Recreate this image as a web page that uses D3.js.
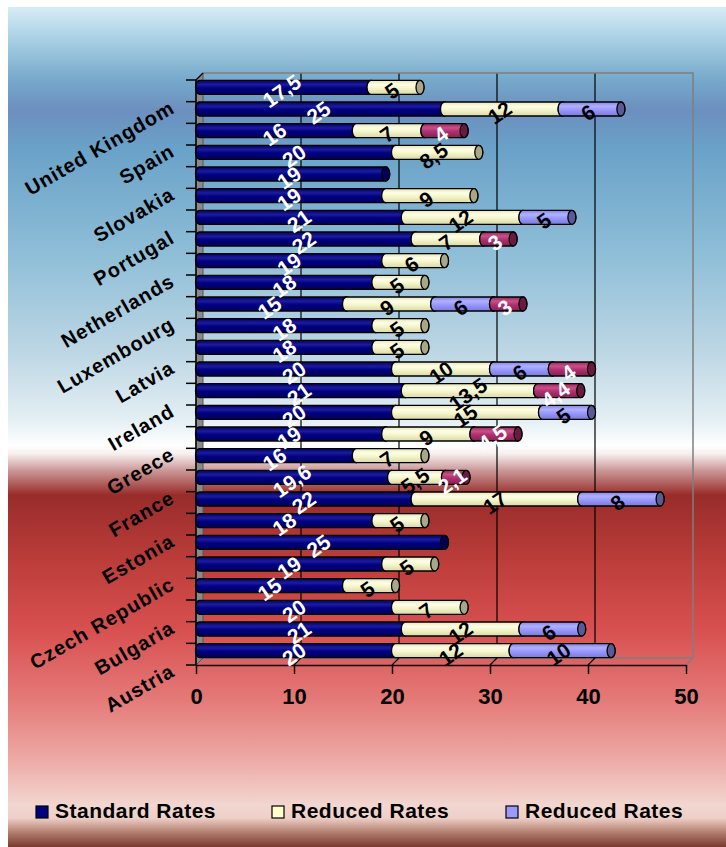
<!DOCTYPE html>
<html>
<head>
<meta charset="utf-8">
<script src="https://cdn.jsdelivr.net/npm/d3@7"></script>
<style>
  body { margin: 0; background: #fff; }
  svg text { font-family: "Liberation Sans", Arial, sans-serif; font-weight: bold; }
</style>
</head>
<body>
<script>
// VAT rates by member state (bottom to top)
const categories = ["Austria", "Belgium", "Bulgaria", "Cyprus", "Czech Republic", "Denmark", "Estonia",
  "Finland", "France", "Germany", "Greece", "Hungary", "Ireland", "Italy", "Latvia", "Lithuania",
  "Luxembourg", "Malta", "Netherlands", "Poland", "Portugal", "Romania", "Slovakia", "Slovenia",
  "Spain", "Sweden", "United Kingdom"];
const standardRates = [20, 21, 20, 15, 19, 25, 18, 22, 19.6, 16, 19, 20, 21, 20, 18, 18, 15, 18, 19, 22, 21, 19, 19, 20, 16, 25, 17.5];
const reducedRates  = [12, 12, 7, 5, 5, 0, 5, 17, 5.5, 7, 9, 15, 13.5, 10, 5, 5, 9, 5, 6, 7, 12, 9, 0, 8.5, 7, 12, 5];
const reducedRates2 = [10, 6, 0, 0, 0, 0, 0, 8, 0, 0, 0, 5, 0, 6, 0, 0, 6, 0, 0, 0, 5, 0, 0, 0, 0, 6, 0];
const reducedRates3 = [0, 0, 0, 0, 0, 0, 0, 0, 2.1, 0, 4.5, 0, 4.4, 4, 0, 0, 3, 0, 0, 3, 0, 0, 0, 0, 4, 0, 0];
const xTicks = [0, 10, 20, 30, 40, 50];
const legendLabels = ["Standard Rates", "Reduced Rates", "Reduced Rates"];

const W = 726, H = 847;
const keys = ["standard", "reduced", "reduced2", "reduced3"];
const fills = {
  standard: { stops: ["#000066", "#1c1c9c", "#000080", "#00005c"], cap: "#000058", label: "#fff", swatch: "#000080" },
  reduced:  { stops: ["#e4e4b6", "#fefee8", "#f6f6cc", "#d8d8a8"], cap: "#a8a888", label: "#000", swatch: "#ffffcc" },
  reduced2: { stops: ["#8484e8", "#b0b0ff", "#9999ff", "#7a7ad8"], cap: "#5a5a98", label: "#000", swatch: "#9999ff" },
  reduced3: { stops: ["#962a5c", "#c85088", "#b03070", "#862050"], cap: "#6a1a40", label: "#fff", swatch: "#b03070" }
};

const rows = categories.map((c, i) => ({
  cat: c,
  standard: standardRates[i],
  reduced: reducedRates[i],
  reduced2: reducedRates2[i],
  reduced3: reducedRates3[i]
}));
const series = d3.stack().keys(keys)(rows);

const svg = d3.select("body").append("svg").attr("width", W).attr("height", H);
const defs = svg.append("defs");

// background panel gradient
const bg = defs.append("linearGradient").attr("id", "bg")
  .attr("gradientUnits", "userSpaceOnUse").attr("x1", 0).attr("y1", 7).attr("x2", 0).attr("y2", H);
[[7, "#d8ecf6"], [40, "#a8cfe4"], [80, "#76a9cb"], [110, "#6c8fbf"], [150, "#6aa2c8"], [250, "#8dbdd7"],
 [350, "#bcd6e4"], [420, "#e4eff4"], [446, "#ffffff"], [454, "#f6eeee"], [470, "#cc9a9a"], [495, "#982c2a"],
 [560, "#bb3d3a"], [630, "#d85050"], [700, "#e47a78"], [760, "#eeaaa6"], [805, "#f2d6d0"], [818, "#efd0c8"],
 [832, "#b48070"], [847, "#783a2e"]]
  .forEach(([yy, c]) => bg.append("stop").attr("offset", (yy - 7) / (H - 7)).attr("stop-color", c));

keys.forEach(k => {
  const g = defs.append("linearGradient").attr("id", "g-" + k).attr("x1", 0).attr("y1", 0).attr("x2", 0).attr("y2", 1);
  [0, 0.3, 0.55, 1].forEach((o, j) => g.append("stop").attr("offset", o).attr("stop-color", fills[k].stops[j]));
});

svg.append("rect").attr("x", 8).attr("y", 7).attr("width", W - 8).attr("height", H - 7).attr("fill", "url(#bg)");

const x = d3.scaleLinear().domain([0, 50]).range([196, 686]);
const y = d3.scaleBand().domain(categories.slice().reverse()).range([80, 665]).padding(0);
const dx = 7, dy = -7;
const plotTop = 80, plotBottom = 665;

// back wall with gridlines
svg.append("g").selectAll("line").data(xTicks.slice(1, -1)).join("line")
  .attr("x1", d => x(d) + dx).attr("x2", d => x(d) + dx)
  .attr("y1", plotTop + dy).attr("y2", plotBottom + dy)
  .attr("stroke", "#000").attr("stroke-width", 1.2);
svg.append("path")
  .attr("d", `M${x(0) + dx},${plotTop + dy} L${x(50) + dx},${plotTop + dy} L${x(50) + dx},${plotBottom + dy} L${x(0) + dx},${plotBottom + dy}`)
  .attr("fill", "none").attr("stroke", "#7f7f7f").attr("stroke-width", 1.5);

// floor
svg.append("path")
  .attr("d", `M${x(50)},${plotBottom} L${x(50) + dx},${plotBottom + dy}`)
  .attr("stroke", "#7f7f7f").attr("stroke-width", 1.5).attr("fill", "none");
svg.append("g").selectAll("line").data(xTicks.slice(1, -1)).join("line")
  .attr("x1", d => x(d)).attr("x2", d => x(d) + dx)
  .attr("y1", plotBottom).attr("y2", plotBottom + dy)
  .attr("stroke", "#000").attr("stroke-width", 1.2);

// left side wall
svg.append("path")
  .attr("d", `M${x(0)},${plotTop} L${x(0) + dx},${plotTop + dy} L${x(0) + dx},${plotBottom + dy} L${x(0)},${plotBottom} Z`)
  .attr("fill", "#8a8a8a").attr("stroke", "#555").attr("stroke-width", 1);

// cylinder segments
const barH = 14, rx = 4, ry = barH / 2;
const off = 3.5;
const cyOf = d => y(d) + y.bandwidth() / 2 - off;

function bodyPath(x0, x1, cy) {
  const t = cy - ry, b = cy + ry;
  return `M${x0},${t} L${x1},${t} A${rx},${ry} 0 0 1 ${x1},${b} L${x0},${b} A${rx},${ry} 0 0 1 ${x0},${t} Z`;
}

const segs = [];
series.forEach(s => {
  s.forEach((d, i) => {
    if (d[1] - d[0] > 0) segs.push({ key: s.key, cat: categories[i], v0: d[0], v1: d[1], value: d[1] - d[0] });
  });
});

const barG = svg.append("g");
const segG = barG.selectAll("g").data(segs).join("g");
segG.append("path")
  .attr("d", d => bodyPath(x(d.v0) + off, x(d.v1) + off, cyOf(d.cat)))
  .attr("fill", d => `url(#g-${d.key})`)
  .attr("stroke", "#000").attr("stroke-width", 1.3);
segG.append("ellipse")
  .attr("cx", d => x(d.v1) + off).attr("cy", d => cyOf(d.cat))
  .attr("rx", rx).attr("ry", ry)
  .attr("fill", d => fills[d.key].cap)
  .attr("stroke", "#000").attr("stroke-width", 1.3);

// y axis
svg.append("line").attr("x1", x(0)).attr("x2", x(0)).attr("y1", plotTop).attr("y2", plotBottom)
  .attr("stroke", "#000").attr("stroke-width", 1.5);
svg.append("line").attr("x1", x(0)).attr("x2", x(0) + dx).attr("y1", plotTop).attr("y2", plotTop + dy)
  .attr("stroke", "#000").attr("stroke-width", 1.2);
const bounds = categories.map(c => y(c)).concat([plotBottom]);
svg.append("g").selectAll("line").data(bounds).join("line")
  .attr("x1", x(0) - 10).attr("x2", x(0))
  .attr("y1", d => d).attr("y2", d => d)
  .attr("stroke", "#000").attr("stroke-width", 1.5);

// x axis
const xAxis = svg.append("g").attr("transform", `translate(0,${plotBottom})`)
  .call(d3.axisBottom(x).tickValues(xTicks).tickSize(9).tickPadding(14).tickSizeOuter(0));
xAxis.select(".domain").attr("stroke", "#000").attr("stroke-width", 1.5);
xAxis.selectAll(".tick line").attr("stroke", "#000").attr("stroke-width", 1.5);
xAxis.selectAll(".tick text").attr("font-size", 22).attr("fill", "#000")
  .attr("font-family", "'Liberation Sans', Arial, sans-serif").attr("font-weight", "bold");

// data labels
const fmt = v => String(+v.toFixed(1)).replace(".", ",");
svg.append("g").selectAll("text").data(segs).join("text")
  .attr("transform", d => `translate(${x((d.v0 + d.v1) / 2)},${y(d.cat) + y.bandwidth() / 2}) rotate(-35)`)
  .attr("text-anchor", "middle").attr("dominant-baseline", "central")
  .attr("font-size", 21).attr("fill", d => fills[d.key].label)
  .text(d => fmt(d.value));

// category labels, every other one
svg.append("g").selectAll("text").data(categories.filter((c, i) => i % 2 === 0)).join("text")
  .attr("transform", d => `translate(176,${y(d) + y.bandwidth() / 2 + 21}) rotate(-30)`)
  .attr("text-anchor", "end").attr("font-size", 20).attr("letter-spacing", 1).attr("fill", "#000")
  .text(d => d);

// legend
const legX = [36, 272, 506];
const lg = svg.append("g").selectAll("g").data(legendLabels).join("g")
  .attr("transform", (d, i) => `translate(${legX[i]},806)`);
lg.append("rect").attr("width", 12).attr("height", 12)
  .attr("fill", (d, i) => fills[keys[i]].swatch).attr("stroke", "#000").attr("stroke-width", 1.2);
lg.append("text").attr("x", 19).attr("y", 12).attr("font-size", 21).attr("letter-spacing", 0.5)
  .attr("fill", "#000").text(d => d);
</script>
</body>
</html>
